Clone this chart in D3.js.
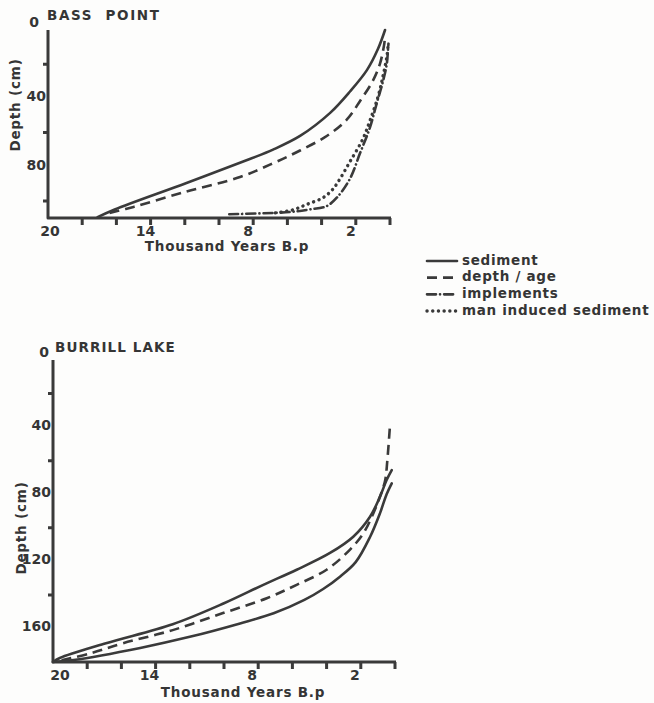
<!DOCTYPE html>
<html>
<head>
<meta charset="utf-8">
<script src="https://d3js.org/d3.v7.min.js"></script>
<style>
  body { margin: 0; background: #fdfdfc; }
  text { font-family: "DejaVu Sans", sans-serif; font-weight: bold; fill: #353535; }
</style>
</head>
<body>
<script>
// ages in thousand years B.P., depths in cm
const xTicks = [18, 16, 14, 12, 10, 8, 6, 4, 2, 0];
const xLabels = [20, 14, 8, 2];

const bassYTicks = [20, 60, 100];
const bassYLabels = [0, 40, 80];
const bassSediment = [[17.1, 109.5], [16.1, 105], [11.9, 89.5], [8.2, 75.5], [6.84, 70], [5.26, 62], [3.5, 48.5], [2.34, 36], [1.35, 23.5], [0.7, 11], [0.29, 0]];
const bassDepthAge = [[16.4, 107], [15, 103.5], [11.9, 94.5], [8.77, 86], [6.84, 78], [5.26, 70.5], [3.7, 62], [2.53, 52.5], [1.75, 41.5], [0.99, 29.5], [0.58, 19.5], [0.35, 9], [0.3, 5]];
const bassImplements = [[9.4, 107.8], [5.85, 106.5], [4.7, 105], [3.7, 103], [3.1, 98], [2.34, 87], [1.75, 72], [1.17, 57], [0.78, 43], [0.41, 30], [0.19, 20], [0.12, 12], [0.09, 8]];
const bassManInduced = [[6.7, 107], [5.7, 105.3], [4.85, 102], [3.9, 98], [3.33, 93], [2.92, 87], [2.34, 77], [1.6, 64], [1.17, 53], [0.7, 39], [0.41, 27], [0.19, 16], [0.12, 10]];

const burrillYTicks = [20, 60, 100, 140];
const burrillYLabels = [0, 40, 80, 120, 160];
const burrillSedimentUpper = [[20, 180], [19.6, 177.6], [16.9, 168.8], [13, 157.5], [10, 145], [7.7, 134], [5.75, 125], [3.8, 115], [2.44, 105.3], [1.46, 93.4], [0.88, 81.5], [0.49, 71.5], [0.19, 65.6]];
const burrillDepthAge = [[19.5, 179], [17.8, 174.8], [15.9, 168.8], [13, 161], [10.1, 151], [7.5, 142], [5.75, 134], [4.0, 125], [2.63, 113], [1.85, 103.3], [1.27, 91.4], [0.88, 81.5], [0.58, 72], [0.45, 60], [0.3, 40]];
const burrillSedimentLower = [[20, 180], [18.8, 178.8], [14.9, 171.6], [12, 165], [9.06, 157], [7.1, 151], [5.3, 143], [4.2, 136.5], [3.2, 129], [2.3, 120.5], [1.46, 105.5], [0.88, 91.4], [0.49, 80], [0.19, 73.5]];

const legendNames = ["sediment", "depth / age", "implements", "man induced sediment"];

const ink = "#3a3a3a";
const styles = {
  sediment: { dash: null, cap: "round", w: 2.6 },
  depth: { dash: "10,6", cap: "butt", w: 2.6 },
  implements: { dash: "9,4,0.1,4", cap: "round", w: 2.6 },
  man: { dash: "0.1,5.6", cap: "round", w: 3.4 }
};

const svg = d3.select("body").append("svg")
  .attr("width", 654).attr("height", 703);

const line = (x, y) => d3.line()
  .x(d => x(d[0])).y(d => y(d[1]))
  .curve(d3.curveCatmullRom.alpha(0.5));

function panel(cfg) {
  const x = d3.scaleLinear().domain([20, 0]).range(cfg.xr);
  const y = d3.scaleLinear().domain([0, cfg.maxDepth]).range(cfg.yr);
  const g = svg.append("g");
  const x0 = x(20), yb = y(cfg.maxDepth);

  // axis lines with tick marks, built from the scales
  const axisD = `M${x0},${y(0)}V${yb}H${x(0) + 1}` +
    xTicks.map(t => `M${x(t)},${yb}v7`).join("") +
    cfg.yTicks.map(t => `M${x0},${y(t)}h-5`).join("");
  g.append("path")
    .attr("d", axisD)
    .attr("fill", "none").attr("stroke", ink).attr("stroke-width", 3)
    .attr("stroke-linejoin", "round");

  g.selectAll(".xl").data(xLabels).join("text")
    .attr("x", d => x(d) + (d === 20 ? cfg.x20Dx : cfg.xlDx))
    .attr("y", yb + 18)
    .attr("text-anchor", "middle")
    .attr("font-size", 14)
    .text(d => d);
  g.selectAll(".yl").data(cfg.yLabels).join("text")
    .attr("x", d => x0 - (d === 0 ? cfg.zeroDx : 2))
    .attr("y", d => y(d) + (d === 0 ? -8 : -2))
    .attr("dy", "0.35em")
    .attr("text-anchor", "end")
    .attr("font-size", 14)
    .text(d => d);

  g.append("text")
    .attr("x", cfg.xTitle[0]).attr("y", cfg.xTitle[1])
    .attr("text-anchor", "middle").attr("font-size", 13.5)
    .attr("letter-spacing", 0.8)
    .text("Thousand Years B.p");
  g.append("text")
    .attr("transform", `translate(${cfg.yTitle[0]},${cfg.yTitle[1]}) rotate(-90)`)
    .attr("text-anchor", "middle").attr("font-size", 13.5)
    .attr("letter-spacing", 0.8)
    .text("Depth (cm)");
  g.append("text")
    .attr("x", cfg.title[0]).attr("y", cfg.title[1])
    .attr("font-size", 13.5).attr("letter-spacing", cfg.titleSpacing)
    .style("white-space", "pre")
    .text(cfg.name);

  cfg.series.forEach(s => {
    const st = styles[s.kind];
    g.append("path")
      .datum(s.data)
      .attr("d", line(x, y))
      .attr("fill", "none")
      .attr("stroke", ink)
      .attr("stroke-width", st.w)
      .attr("stroke-linecap", st.cap)
      .attr("stroke-linejoin", "round")
      .attr("stroke-dasharray", st.dash);
  });
}

panel({
  name: "BASS  POINT",
  xr: [48, 390], yr: [30, 218], maxDepth: 110,
  yTicks: bassYTicks, yLabels: bassYLabels, xlDx: -5, x20Dx: 2, zeroDx: 9,
  xTitle: [227, 251], yTitle: [20, 105], title: [47, 20], titleSpacing: 1.6,
  series: [
    { kind: "sediment", data: bassSediment },
    { kind: "depth", data: bassDepthAge },
    { kind: "implements", data: bassImplements },
    { kind: "man", data: bassManInduced }
  ]
});

panel({
  name: "BURRILL LAKE",
  xr: [53, 395], yr: [360, 662], maxDepth: 180,
  yTicks: burrillYTicks, yLabels: burrillYLabels, xlDx: -6, x20Dx: 7, zeroDx: 4,
  xTitle: [243, 697], yTitle: [26, 528], title: [55, 352], titleSpacing: 1.1,
  series: [
    { kind: "sediment", data: burrillSedimentUpper },
    { kind: "depth", data: burrillDepthAge },
    { kind: "sediment", data: burrillSedimentLower }
  ]
});

// legend
const legendKinds = ["sediment", "depth", "implements", "man"];
const ly = d3.scalePoint().domain(legendNames).range([260, 310]);
const lg = svg.append("g");
legendNames.forEach((n, i) => {
  const st = styles[legendKinds[i]];
  lg.append("line")
    .attr("x1", 427).attr("x2", 457)
    .attr("y1", ly(n) + 1).attr("y2", ly(n) + 1)
    .attr("stroke", ink).attr("stroke-width", st.w)
    .attr("stroke-linecap", st.cap)
    .attr("stroke-dasharray", st.dash);
  lg.append("text")
    .attr("x", 462).attr("y", ly(n)).attr("dy", "0.35em")
    .attr("font-size", 13.5).attr("letter-spacing", 0.7)
    .text(n);
});
</script>
</body>
</html>
